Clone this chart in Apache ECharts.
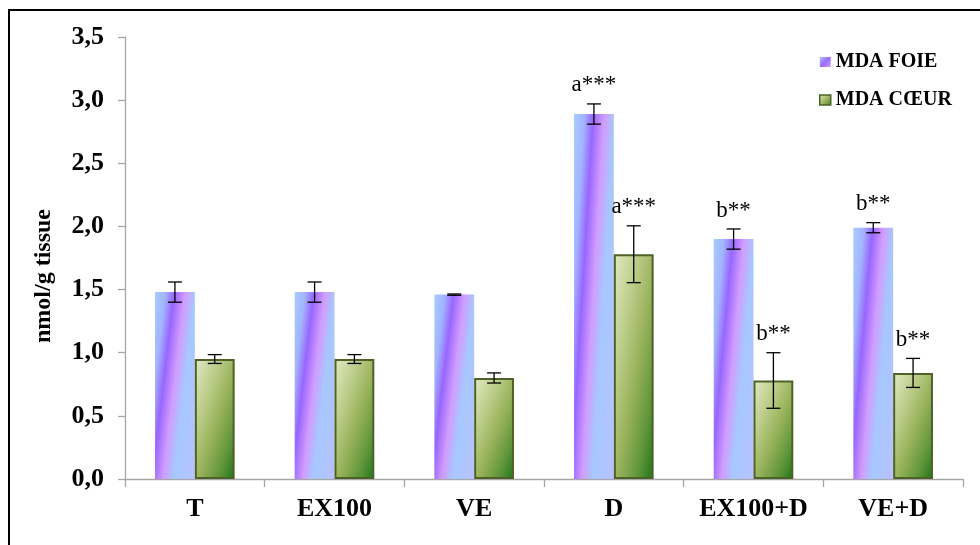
<!DOCTYPE html>
<html>
<head>
<meta charset="utf-8">
<script src="https://cdn.jsdelivr.net/npm/echarts@6/dist/echarts.min.js"></script>
<style>
  html, body { margin: 0; padding: 0; background: #fff; }
  #chart { width: 980px; height: 545px; }
</style>
</head>
<body>
<div id="chart"></div>
<script>
// Groups and measured MDA levels (nmol/g tissue), mean and error
const groups = ['T', 'EX100', 'VE', 'D', 'EX100+D', 'VE+D'];
const foie = [1.48, 1.48, 1.46, 2.89, 1.90, 1.99];
const foieErr = [0.08, 0.08, 0.005, 0.08, 0.08, 0.04];
const coeur = [0.95, 0.95, 0.80, 1.78, 0.78, 0.84];
const coeurErr = [0.035, 0.035, 0.04, 0.225, 0.22, 0.115];
const foieSig = ['', '', '', 'a***', 'b**', 'b**'];
const coeurSig = ['', '', '', 'a***', 'b**', 'b**'];
const yTickLabels = ['0,0', '0,5', '1,0', '1,5', '2,0', '2,5', '3,0', '3,5'];
const seriesNames = ['MDA FOIE', 'MDA CŒUR'];

const SERIF = '"Liberation Serif", "Times New Roman", serif';
const CAT_GAP = 0.43;          // barCategoryGap as a fraction
const PX_PER_UNIT = 442 / 3.5; // approximate plot pixels per unit, for gradient slant
const BAR_W = 40;

const foieStops = [
  { offset: 0.00, color: '#a8ccff' },
  { offset: 0.17, color: '#a2b4ff' },
  { offset: 0.31, color: '#9866ff' },
  { offset: 0.49, color: '#d29cff' },
  { offset: 0.66, color: '#a6c8ff' },
  { offset: 1.00, color: '#b8c2ff' }
];
const coeurStops = [
  { offset: 0.00, color: '#e2eac4' },
  { offset: 0.30, color: '#bccd8a' },
  { offset: 0.55, color: '#98b25a' },
  { offset: 0.80, color: '#5f953a' },
  { offset: 1.00, color: '#1d7519' }
];
function barHeight(v) { return Math.max(v * PX_PER_UNIT, 20); }

// Slanted stripes: same shift relative to the bar width whatever its height
function foieFill(params) {
  const h = barHeight(params.value);
  const L = 1 / (0.416 / (BAR_W * BAR_W) + 0.126 / (h * h));
  return new echarts.graphic.LinearGradient(
    0, 0, 0.645 * L / (BAR_W * BAR_W), 0.355 * L / (h * h), foieStops);
}
// Corner-to-corner shading, light top-left to dark bottom-right
function coeurFill(params) {
  const h = barHeight(params.value);
  const w = BAR_W;
  const d = h * h + w * w;
  return new echarts.graphic.LinearGradient(0, 0, 2 * h * h / d, 2 * w * w / d, coeurStops);
}
const legendFoie = new echarts.graphic.LinearGradient(0, 0, 1, 1, [
  { offset: 0, color: '#b3c4ff' },
  { offset: 0.5, color: '#9a6cff' },
  { offset: 1, color: '#c9a2ff' }
]);
const legendCoeur = new echarts.graphic.LinearGradient(0, 0, 1, 1, coeurStops);

function errorSeries(name, vals, errs, sigs, side) {
  return {
    type: 'custom',
    name: name + ' err',
    silent: true,
    z: 5,
    data: vals.map((v, i) => [i, v - errs[i], v + errs[i]]),
    encode: { x: 0, y: [1, 2] },
    renderItem(params, api) {
      const i = api.value(0);
      const lo = api.coord([i, api.value(1)]);
      const hi = api.coord([i, api.value(2)]);
      const band = api.size([1, 0])[0];
      const barW = band * (1 - CAT_GAP) / 2;
      const x = lo[0] + side * barW / 2;
      const cap = 7;
      const st = { stroke: '#000', lineWidth: 1.3 };
      const children = [
        { type: 'line', shape: { x1: x, y1: hi[1], x2: x, y2: lo[1] }, style: st },
        { type: 'line', shape: { x1: x - cap, y1: hi[1], x2: x + cap, y2: hi[1] }, style: st },
        { type: 'line', shape: { x1: x - cap, y1: lo[1], x2: x + cap, y2: lo[1] }, style: st }
      ];
      const sig = sigs[params.dataIndex];
      if (sig) {
        children.push({
          type: 'text',
          style: {
            text: sig, x: x, y: hi[1] - 7,
            align: 'center', verticalAlign: 'bottom',
            font: '23px ' + SERIF, fill: '#000'
          }
        });
      }
      return { type: 'group', children };
    }
  };
}

const chart = echarts.init(document.getElementById('chart'), null, { renderer: 'canvas' });
chart.setOption({
  animation: false,
  backgroundColor: '#fff',
  grid: { left: 125, right: 17, top: 37, bottom: 66, containLabel: false, outerBoundsMode: 'none' },
  legend: {
    orient: 'vertical',
    left: 814,
    top: 46,
    itemWidth: 11,
    itemHeight: 10,
    itemGap: 16,
    icon: 'rect',
    textStyle: { fontFamily: SERIF, fontWeight: 'bold', fontSize: 20, color: '#000', lineHeight: 22 },
    data: [
      { name: seriesNames[0], itemStyle: { color: legendFoie, borderWidth: 0 } },
      { name: seriesNames[1], itemStyle: { color: legendCoeur, borderColor: '#4e6127', borderWidth: 1.5 } }
    ]
  },
  xAxis: {
    type: 'category',
    data: groups,
    axisLine: { lineStyle: { color: '#a6a6a6', width: 1.3 } },
    axisTick: { show: true, interval: 0, length: 8, lineStyle: { color: '#a6a6a6', width: 1.3 } },
    axisLabel: {
      interval: 0, hideOverlap: false,
      fontFamily: SERIF, fontWeight: 'bold', fontSize: 26, color: '#000', margin: 17
    },
    splitLine: { show: false }
  },
  yAxis: {
    type: 'value',
    min: 0,
    max: 3.5,
    interval: 0.5,
    name: 'nmol/g tissue',
    nameLocation: 'middle',
    nameGap: 69,
    nameTextStyle: {
      fontFamily: SERIF, fontWeight: 'bold', fontSize: 24, color: '#000',
      padding: [0, 36, 0, 0]
    },
    axisLine: { show: true, lineStyle: { color: '#a6a6a6', width: 1.3 } },
    axisTick: { show: true, length: 7, lineStyle: { color: '#a6a6a6', width: 1.3 } },
    axisLabel: {
      fontFamily: SERIF, fontWeight: 'bold', fontSize: 26, color: '#000', margin: 21,
      formatter: (v, idx) => yTickLabels[idx]
    },
    splitLine: { show: false }
  },
  graphic: [
    { type: 'line', shape: { x1: 9, y1: 10, x2: 980, y2: 10 }, style: { stroke: '#000', lineWidth: 2 } },
    { type: 'line', shape: { x1: 9, y1: 9, x2: 9, y2: 545 }, style: { stroke: '#000', lineWidth: 2 } }
  ],
  series: [
    {
      type: 'bar',
      name: seriesNames[0],
      data: foie,
      barGap: '0%',
      barCategoryGap: (CAT_GAP * 100) + '%',
      itemStyle: { color: foieFill, borderWidth: 0 }
    },
    {
      type: 'bar',
      name: seriesNames[1],
      data: coeur,
      barGap: '0%',
      barCategoryGap: (CAT_GAP * 100) + '%',
      itemStyle: { color: coeurFill, borderColor: '#4e6127', borderWidth: 2 }
    },
    errorSeries(seriesNames[0], foie, foieErr, foieSig, -1),
    errorSeries(seriesNames[1], coeur, coeurErr, coeurSig, 1)
  ]
});
</script>
</body>
</html>
